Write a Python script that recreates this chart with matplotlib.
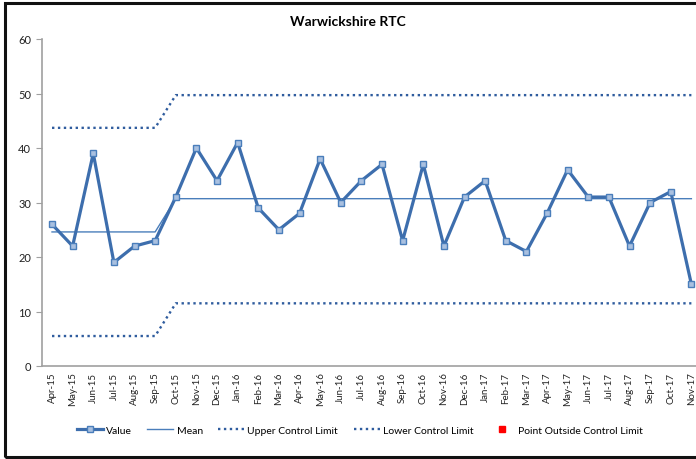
import matplotlib.pyplot as plt
from matplotlib.patches import Rectangle

# months on the category axis
months = ['Apr-15', 'May-15', 'Jun-15', 'Jul-15', 'Aug-15', 'Sep-15', 'Oct-15', 'Nov-15',
          'Dec-15', 'Jan-16', 'Feb-16', 'Mar-16', 'Apr-16', 'May-16', 'Jun-16', 'Jul-16',
          'Aug-16', 'Sep-16', 'Oct-16', 'Nov-16', 'Dec-16', 'Jan-17', 'Feb-17', 'Mar-17',
          'Apr-17', 'May-17', 'Jun-17', 'Jul-17', 'Aug-17', 'Sep-17', 'Oct-17', 'Nov-17']

# RTC counts per month
values = [26, 22, 39, 19, 22, 23, 31, 40, 34, 41, 29, 25, 28, 38, 30, 34,
          37, 23, 37, 22, 31, 34, 23, 21, 28, 36, 31, 31, 22, 30, 32, 15]

# process limits (two phases, step at Oct-15)
mean = [24.6] * 6 + [30.7] * 26
ucl = [43.7] * 6 + [49.7] * 26
lcl = [5.5] * 6 + [11.5] * 26

# no points fall outside the limits
outside_x = []
outside_y = []

plt.rcParams['font.family'] = ['Lato', 'DejaVu Sans']

fig = plt.figure(figsize=(6.96, 4.6), dpi=100)
W, H = 696, 460
ax = fig.add_axes([41.7 / W, 1 - 367 / H, 660 / W, 327 / H])

x = list(range(len(months)))
line_col = '#4A7EBB'
limit_col = '#2F5C9E'

ax.plot(x, values, color='#3D6EAD', lw=2.3, marker='s', ms=5,
        mfc='#A9C0E0', mec='#4A7EBB', mew=1, label='Value', zorder=4)
ax.plot(x, mean, color=line_col, lw=1, label='Mean', zorder=3)
ax.plot(x, ucl, color=limit_col, lw=1.7, ls=(0, (1, 1.5)), label='Upper Control Limit')
ax.plot(x, lcl, color=limit_col, lw=1.7, ls=(0, (1, 1.5)), label='Lower Control Limit')
ax.plot(outside_x, outside_y, color='red', ls='none', marker='s', ms=4,
        label='Point Outside Control Limit')

ax.set_xlim(-0.5, len(months) - 0.5)
ax.set_ylim(0, 60)
ax.set_yticks(range(0, 61, 10))
ax.set_xticks(x)
ax.set_xticklabels(months, rotation=90, fontsize=7, color='#222222')
ax.tick_params(axis='y', labelsize=8, length=4, color='#A0A0A0', labelcolor='#222222')
ax.tick_params(axis='x', length=0, pad=4)

for s in ['top', 'right']:
    ax.spines[s].set_visible(False)
for s in ['left', 'bottom']:
    ax.spines[s].set_color('#A0A0A0')
    ax.spines[s].set_linewidth(1.2)

fig.text(0.5, 1 - 22 / H, 'Warwickshire RTC', ha='center', va='center',
         fontsize=10, fontweight='bold')

fig.legend(loc='center', bbox_to_anchor=(360 / W, 1 - 431 / H), ncol=5, frameon=False,
           fontsize=7.5, handlelength=2.5, columnspacing=1.5, handletextpad=0.3)

# outer chart border
fig.patches.append(Rectangle((5 / W, 2 / H), 700 / W, 454 / H, transform=fig.transFigure,
                             fill=False, edgecolor='#111111', lw=2.2))

fig.savefig('out.png', dpi=100)
